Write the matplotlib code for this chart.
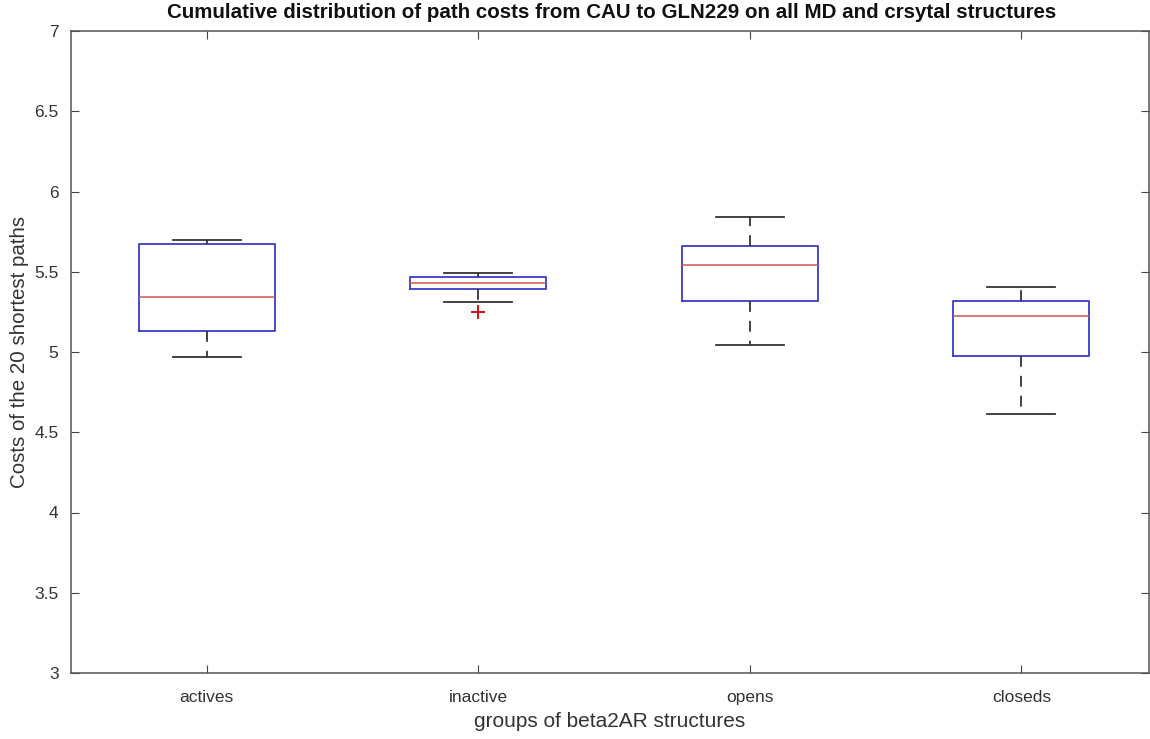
import matplotlib.pyplot as plt
import numpy as np

plt.rcParams['font.family'] = ['Liberation Sans', 'DejaVu Sans']

groups = ['actives', 'inactive', 'opens', 'closeds']
# box statistics per group
medians = [5.345, 5.428, 5.542, 5.226]
q1 = [5.131, 5.393, 5.320, 4.975]
q3 = [5.671, 5.465, 5.660, 5.318]
whis_lo = [4.971, 5.310, 5.044, 4.614]
whis_hi = [5.698, 5.490, 5.843, 5.407]
outliers = [[], [5.251], [], []]

stats = []
for i, g in enumerate(groups):
    stats.append(dict(label=g, med=medians[i], q1=q1[i], q3=q3[i],
                      whislo=whis_lo[i], whishi=whis_hi[i], fliers=outliers[i]))

fig = plt.figure(figsize=(11.5, 7.39), dpi=100)
ax = fig.add_axes([71/1150, 1 - 673/739, 1078/1150, 642/739])

ax.bxp(stats, positions=np.arange(1, 5), widths=0.5,
       boxprops=dict(color='#3b3bc8', linewidth=1.3),
       medianprops=dict(color='#d9534f', linewidth=1.1),
       whiskerprops=dict(color='#333333', linewidth=1.3, linestyle=(0, (6, 5))),
       capprops=dict(color='#333333', linewidth=1.3),
       capwidths=0.25,
       flierprops=dict(marker='+', markeredgecolor='#cc1111', markersize=10,
                       markeredgewidth=1.4, linestyle='none'))

ax.set_xlim(0.5, 4.47)
ax.set_ylim(3, 7)
ax.set_yticks(np.arange(3, 7.01, 0.5))
ax.set_yticklabels(['3', '3.5', '4', '4.5', '5', '5.5', '6', '6.5', '7'])
ax.set_xticks(np.arange(1, 5))
ax.set_xticklabels(groups)

for s in ax.spines.values():
    s.set_color('#555555')
    s.set_linewidth(1.1)
ax.tick_params(direction='in', top=True, right=True, length=6, color='#444444',
               labelsize=12.5, labelcolor='#333333')
ax.tick_params(axis='x', pad=12)
ax.tick_params(axis='y', pad=9)

ax.set_xlabel('groups of beta2AR structures', fontsize=15, color='#333333', labelpad=5)
ax.set_ylabel('Costs of the 20 shortest paths', fontsize=14.8, color='#333333', labelpad=4)
fig.text(612/1150, 1 - 13/739,
         'Cumulative distribution of path costs from CAU to GLN229 on all MD and crsytal structures',
         fontsize=14.8, fontweight='bold', color='#111111', ha='center', va='center')

fig.savefig('out.png', dpi=100)
